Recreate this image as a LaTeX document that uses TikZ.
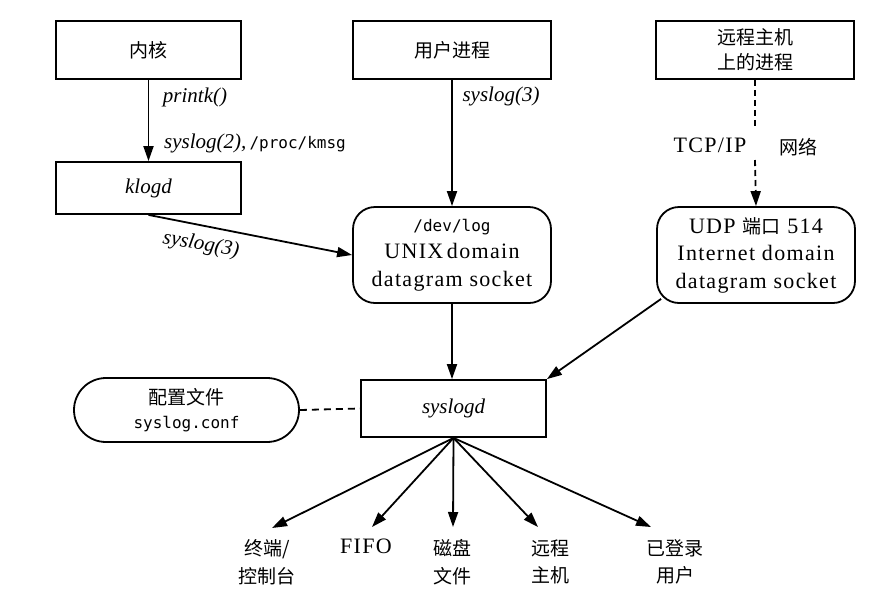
\documentclass[tikz,border=0pt]{standalone}
\usepackage{fontspec}
\setmainfont[LetterSpace=6]{Liberation Serif}
\setmonofont{DejaVu Sans Mono}
\newfontfamily\itserif{Liberation Serif Italic}
\newfontfamily\cjk{Noto Sans CJK SC}
\usetikzlibrary{arrows.meta}
\newcommand\serf{\fontsize{22}{27.5}\selectfont}
\newcommand\itf{\itserif\fontsize{21}{26}\selectfont}
\newcommand\cjf{\cjk\fontsize{19}{27.5}\selectfont}
\newcommand\mof{\ttfamily\fontsize{16}{27.5}\selectfont}
\tikzset{
  box/.style={draw, line width=1.8pt, inner sep=0pt, align=center},
  rbox/.style={box, rounded corners=22pt},
  arr/.style={line width=1.8pt, -{Triangle[length=15pt,width=10pt]}},
  dsh/.style={line width=1.8pt, dash pattern=on 6pt off 4pt},
  lbl/.style={inner sep=0pt, align=center},
}
\begin{document}
\begin{tikzpicture}[x=1pt,y=-1pt]
\useasboundingbox (0,0) rectangle (875,598);
% boxes
\node[box, minimum width=185pt, minimum height=58pt, font=\cjf] (kern) at (148.5,50) {内核};
\node[box, minimum width=198pt, minimum height=58pt, font=\cjf] (uproc) at (452,50) {用户进程};
\node[box, minimum width=198pt, minimum height=58pt, font=\cjk\fontsize{19}{25}\selectfont] (rproc) at (755,50) {远程主机\\上的进程};
\node[box, minimum width=185pt, minimum height=52pt, font=\itf] (klogd) at (148.5,188) {klogd};
\node[rbox, minimum width=198pt, minimum height=96pt, font=\serf] (devlog) at (452,255) {{\mof /dev/log}\\UNIX\,domain\\datagram socket};
\node[rbox, minimum width=198pt, minimum height=96pt, font=\serf] (udp) at (756,255) {UDP {\cjf 端口} 514\\Internet domain\\datagram socket};
\node[box, minimum width=185pt, minimum height=57pt, font=\itf] (syslogd) at (453.5,408.5) {syslogd};
\node[box, rounded corners=32pt, minimum width=225pt, minimum height=64pt, font=\cjk\fontsize{19}{24}\selectfont] (conf) at (186.5,410) {配置文件\\{\mof syslog.conf}};
% output labels
\node[lbl, font=\cjf] (o1) at (267,562) {终端/\\控制台};
\node[lbl, font=\serf] (o2) at (366,546) {FIFO};
\node[lbl, font=\cjf] (o3) at (452,562) {磁盘\\文件};
\node[lbl, font=\cjf] (o4) at (550,562) {远程\\主机};
\node[lbl, font=\cjf] (o5) at (675,562) {已登录\\用户};
\coordinate (t1) at (272,528);
\coordinate (t2) at (372,527);
\coordinate (t3) at (453,527);
\coordinate (t4) at (538,527);
\coordinate (t5) at (651,527);
% edge labels
\node[lbl, font=\itf] (lp) at (195,97) {printk()};
\node[lbl, anchor=west] (lk) at (164,143) {{\itf syslog(2),} {\mof /proc/kmsg}};
\node[lbl, font=\itf, rotate=-10] (l3a) at (201,245) {syslog(3)};
\node[lbl, font=\itf] (l3b) at (501,96) {syslog(3)};
\node[lbl, font=\serf] (tcp) at (710,145) {TCP/IP};
\node[lbl, font=\cjf] (net) at (798,147) {网络};
\coordinate (gA) at (755,128);
\coordinate (gB) at (755,160);
% connectors
\draw[arr] (kern) -- (klogd);
\draw[arr] (uproc) -- (devlog);
\draw[arr] (klogd.south) -- (devlog.west);
\draw[dsh] (rproc.south) -- (gA);
\draw[arr, dsh] (gB) -- (udp.north);
\draw[arr] (devlog.south) -- (devlog.south |- syslogd.north);
\draw[arr] ([xshift=5pt,yshift=5pt]udp.south west) -- (syslogd.north east);
\draw[dsh, dash pattern=on 7pt off 5pt] (conf.east) -- (syslogd.west);
\foreach \t in {t1,t2,t3,t4,t5}
  \draw[arr] (syslogd.south) -- (\t);
\end{tikzpicture}
\end{document}
